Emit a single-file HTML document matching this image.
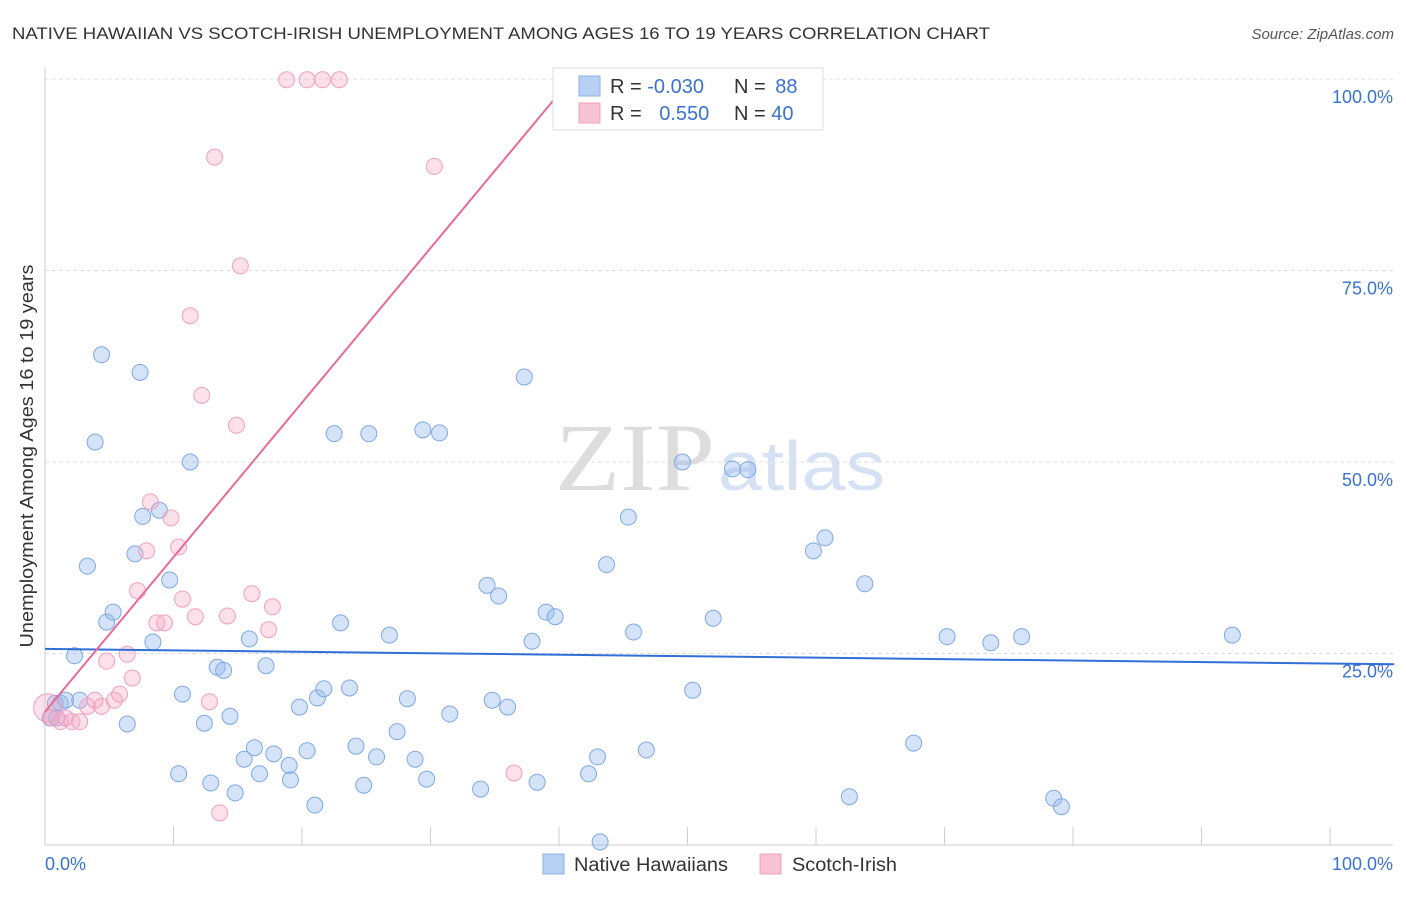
<!DOCTYPE html>
<html><head><meta charset="utf-8">
<style>
body{margin:0;background:#fff;font-family:"Liberation Sans",sans-serif;}
svg text{font-family:"Liberation Sans",sans-serif;}
</style></head>
<body>
<svg id="chart" width="1406" height="892" xmlns="http://www.w3.org/2000/svg">
<text x="12" y="39" font-size="17" fill="#333" textLength="978" lengthAdjust="spacingAndGlyphs">NATIVE HAWAIIAN VS SCOTCH-IRISH UNEMPLOYMENT AMONG AGES 16 TO 19 YEARS CORRELATION CHART</text>
<text x="1394" y="39" font-size="15" fill="#555" font-style="italic" text-anchor="end">Source: ZipAtlas.com</text>
<text transform="translate(33,456) rotate(-90)" font-size="18" fill="#333" text-anchor="middle" textLength="383" lengthAdjust="spacingAndGlyphs">Unemployment Among Ages 16 to 19 years</text>
<g id="grid"></g>
<g id="axes"></g>
<text x="555" y="490" font-size="96" fill="#ddd" style="font-family:'Liberation Serif',serif" textLength="160" lengthAdjust="spacingAndGlyphs">ZIP</text>
<text x="718" y="490" font-size="70" fill="#d6e2f4" textLength="167" lengthAdjust="spacingAndGlyphs">atlas</text>
<g id="pts"></g>
<g id="lines"></g>
<g>
<rect x="553" y="68" width="270" height="62" fill="#fff" stroke="#ddd"/>
<rect x="579" y="76" width="21" height="20" fill="#b8d0f4" stroke="#8ab0e8"/>
<rect x="579" y="103" width="21" height="20" fill="#f8c4d4" stroke="#f0a0bc"/>
<text x="610" y="93" font-size="20" fill="#333">R = <tspan fill="#3a72d0">-0.030</tspan></text>
<text x="734" y="93" font-size="20" fill="#333">N = <tspan fill="#3a72d0" dx="4">88</tspan></text>
<text x="610" y="120" font-size="20" fill="#333">R = <tspan fill="#3a72d0" dx="12">0.550</tspan></text>
<text x="734" y="120" font-size="20" fill="#333">N = <tspan fill="#3a72d0">40</tspan></text>
</g>
<g>
<rect x="543" y="854" width="21" height="20" fill="#b8d0f4" stroke="#8ab0e8"/>
<text x="574" y="871" font-size="19" fill="#333" textLength="154" lengthAdjust="spacingAndGlyphs">Native Hawaiians</text>
<rect x="760" y="854" width="21" height="20" fill="#f8c4d4" stroke="#f0a0bc"/>
<text x="792" y="871" font-size="19" fill="#333" textLength="105" lengthAdjust="spacingAndGlyphs">Scotch-Irish</text>
</g>
</svg>
<script>
const blueX=[0.8,0.4,0.9,1.2,1.6,2.3,2.7,3.3,3.9,4.4,4.8,5.3,6.4,7.0,7.4,7.6,8.4,8.9,9.7,10.4,10.7,11.3,12.4,12.9,13.4,13.9,14.4,14.8,15.5,15.9,16.3,16.7,17.2,17.8,19.0,19.1,19.8,20.4,21.0,21.2,21.7,22.5,23.0,23.7,24.2,24.8,25.2,25.8,26.8,27.4,28.2,28.8,29.4,29.7,30.7,31.5,33.9,34.4,34.8,35.3,36.0,37.3,37.9,38.3,39.0,39.7,42.3,43.0,43.2,43.7,45.4,45.8,46.8,49.6,50.4,52.0,53.5,54.7,59.8,60.7,62.6,63.8,67.6,70.2,73.6,76.0,78.5,79.1,92.4];
const blueY=[18.5,16.6,16.6,18.5,18.9,24.7,18.9,36.4,52.6,64.0,29.1,30.4,15.8,38.0,61.7,42.9,26.5,43.7,34.6,9.3,19.7,50.0,15.9,8.1,23.2,22.8,16.8,6.8,11.2,26.9,12.7,9.3,23.4,11.9,10.4,8.5,18.0,12.3,5.2,19.2,20.4,53.7,29.0,20.5,12.9,7.8,53.7,11.5,27.4,14.8,19.1,11.2,54.2,8.6,53.8,17.1,7.3,33.9,18.9,32.5,18.0,61.1,26.6,8.2,30.4,29.8,9.3,11.5,0.4,36.6,42.8,27.8,12.4,50.0,20.2,29.6,49.1,49.0,38.4,40.1,6.3,34.1,13.3,27.2,26.4,27.2,6.1,5.0,27.4];
const pinkX=[0.2,0.5,1.2,1.6,2.1,2.7,3.3,3.9,4.4,4.8,5.4,5.8,6.4,6.8,7.2,7.9,8.2,8.7,9.3,9.8,10.4,10.7,11.7,12.2,12.8,13.2,13.6,14.2,14.9,15.2,16.1,17.4,17.7,11.3,18.8,20.4,21.6,22.9,30.3,36.5];
const pinkY=[17.9,16.6,16.1,16.6,16.1,16.1,18.1,18.9,18.1,24.0,18.9,19.7,24.9,21.8,33.2,38.4,44.8,29.0,29.0,42.7,38.9,32.1,29.8,58.7,18.7,89.8,4.2,29.9,54.8,75.6,32.8,28.1,31.1,69.1,99.9,99.9,99.9,99.9,88.6,9.4];
const blueTrend=[[0,25.6],[105,23.6]];
const pinkTrend=[[0,17.4],[40.1,98.3]];
const yTicks=[25,50,75,100];
const yTickLabels=["25.0%","50.0%","75.0%","100.0%"];
const xTicks=[0,10,20,30,40,50,60,70,80,90,100];

const NS="http://www.w3.org/2000/svg";
const sx=v=>45+v*12.85;
const sy=v=>845-v*7.66;
function mk(tag,attrs,parent){const e=document.createElementNS(NS,tag);for(const k in attrs)e.setAttribute(k,attrs[k]);parent.appendChild(e);return e;}
const grid=document.getElementById('grid'),axes=document.getElementById('axes'),pts=document.getElementById('pts'),lines=document.getElementById('lines');
yTicks.forEach((t,i)=>{
  const l=mk('line',{x1:45,x2:1393,y1:sy(t),y2:sy(t),stroke:'#ddd','stroke-dasharray':'4,3'},grid);
  
  
  const tx=mk('text',{x:1393,y:sy(t)+24,'font-size':18,fill:'#3a72d0','text-anchor':'end'},axes);
  tx.textContent=yTickLabels[i];
  
  
});
const ax=mk('line',{x1:45,x2:45,y1:68,y2:845,stroke:'#ccc'},axes);


const bx=mk('line',{x1:45,x2:1393,y1:845,y2:845,stroke:'#ccc'},axes);


xTicks.forEach(t=>{
  const l=mk('line',{x1:sx(t),x2:sx(t),y1:827,y2:845,stroke:'#ccc'},axes);
  
  
});
const xl0=mk('text',{x:45,y:870,'font-size':18,fill:'#3a72d0'},axes);xl0.textContent='0.0%';


const xl1=mk('text',{x:1393,y:870,'font-size':18,fill:'#3a72d0','text-anchor':'end'},axes);xl1.textContent='100.0%';


blueX.forEach((x,i)=>{
  const c=mk('circle',{cx:sx(x),cy:sy(blueY[i]),r:8,fill:'rgba(150,185,240,0.4)',stroke:'#7ea8e6','stroke-width':1},pts);
  
  
});
pinkX.forEach((x,i)=>{
  const c=mk('circle',{cx:sx(x),cy:sy(pinkY[i]),r:i===0?14:8,fill:'rgba(245,165,195,0.35)',stroke:'#f0a0bc','stroke-width':1},pts);
  
  
});
const bl=mk('line',{x1:sx(blueTrend[0][0]),y1:sy(blueTrend[0][1]),x2:sx(blueTrend[1][0]),y2:sy(blueTrend[1][1]),stroke:'#2f6fd6','stroke-width':2},lines);


const pl=mk('line',{x1:sx(pinkTrend[0][0]),y1:sy(pinkTrend[0][1]),x2:sx(pinkTrend[1][0]),y2:sy(pinkTrend[1][1]),stroke:'#e86a98','stroke-width':2},lines);


</script>
</body></html>
